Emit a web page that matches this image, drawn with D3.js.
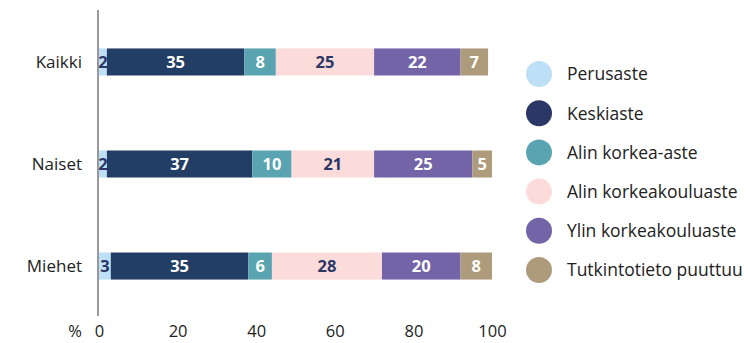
<!DOCTYPE html>
<html>
<head>
<meta charset="utf-8">
<script src="https://cdn.jsdelivr.net/npm/d3@7/dist/d3.min.js"></script>
<style>
  html, body { margin: 0; padding: 0; background: #fff; }
  svg { display: block; font-family: "Open Sans", "Noto Sans", sans-serif; }
</style>
</head>
<body>
<svg id="chart" width="749" height="343"></svg>
<script>
// Education level shares (%) by group
const groups = ["Kaikki", "Naiset", "Miehet"];
const levels = ["Perusaste", "Keskiaste", "Alin korkea-aste", "Alin korkeakouluaste", "Ylin korkeakouluaste", "Tutkintotieto puuttuu"];
const kaikki = [2, 35, 8, 25, 22, 7];
const naiset = [2, 37, 10, 21, 25, 5];
const miehet = [3, 35, 6, 28, 20, 8];
const xTicks = [0, 20, 40, 60, 80, 100];

const colors = ["#bde0f6", "#233e65", "#5aa4b2", "#fbdcdb", "#7364a8", "#ae9b7b"];
const legendColors = ["#bde0f6", "#2b3766", "#5aa4b2", "#fbdcdb", "#7364a8", "#ae9b7b"];
const labelColors = ["#2b3766", "#fff", "#fff", "#2b3766", "#fff", "#fff"];

const rows = [kaikki, naiset, miehet].map((vals, i) => {
  let acc = 0;
  return {
    group: groups[i],
    segs: vals.map((v, j) => { const s = { level: j, x0: acc, x1: acc + v, v }; acc += v; return s; })
  };
});

const svg = d3.select("#chart");
const x = d3.scaleLinear().domain([0, 100]).range([99, 492]);
const y = d3.scaleBand().domain(groups).range([11, 317]).paddingInner(0.735).paddingOuter(0.367);

// stacked bars
const row = svg.selectAll("g.row").data(rows).join("g").attr("class", "row")
  .attr("transform", d => `translate(0,${y(d.group)})`);

row.selectAll("rect").data(d => d.segs).join("rect")
  .attr("x", d => x(d.x0))
  .attr("width", d => x(d.x1) - x(d.x0))
  .attr("y", 0)
  .attr("height", y.bandwidth())
  .attr("fill", d => colors[d.level]);

row.selectAll("text").data(d => d.segs).join("text")
  .attr("x", d => (x(d.x0) + x(d.x1)) / 2)
  .attr("y", y.bandwidth() / 2)
  .attr("dy", "0.36em")
  .attr("text-anchor", "middle")
  .attr("font-size", 16.5)
  .attr("font-weight", 700)
  .attr("fill", d => labelColors[d.level])
  .text(d => d.v);

// vertical baseline
svg.append("line")
  .attr("x1", x(0) - 1).attr("x2", x(0) - 1)
  .attr("y1", 10).attr("y2", 316)
  .attr("stroke", "#999").attr("stroke-width", 2);

// group labels
svg.selectAll("text.grp").data(groups).join("text").attr("class", "grp")
  .attr("x", 82)
  .attr("y", d => y(d) + y.bandwidth() / 2)
  .attr("dy", "0.36em")
  .attr("text-anchor", "end")
  .attr("font-size", 17)
  .attr("fill", "#222")
  .text(d => d);

// x axis ticks
const xAxis = d3.axisBottom(x).tickValues(xTicks).tickSize(0).tickPadding(0);
const ax = svg.append("g").attr("transform", "translate(0,325)").call(xAxis);
ax.select(".domain").remove();
ax.selectAll("text").attr("font-size", 16.5).attr("fill", "#222")
  .attr("font-family", "\"Open Sans\", \"Noto Sans\", sans-serif");

svg.append("text")
  .attr("x", 75).attr("y", 325)
  .attr("dy", "0.71em")
  .attr("text-anchor", "middle")
  .attr("font-size", 16.5).attr("fill", "#222")
  .text("%");

// legend
const lg = svg.selectAll("g.lg").data(levels).join("g").attr("class", "lg")
  .attr("transform", (d, i) => `translate(539,${74 + i * 39.2})`);
lg.append("circle").attr("r", 13).attr("fill", (d, i) => legendColors[i]);
lg.append("text")
  .attr("x", 28).attr("dy", "0.36em")
  .attr("font-size", 17.5).attr("fill", "#222")
  .text(d => d);
</script>
</body>
</html>
